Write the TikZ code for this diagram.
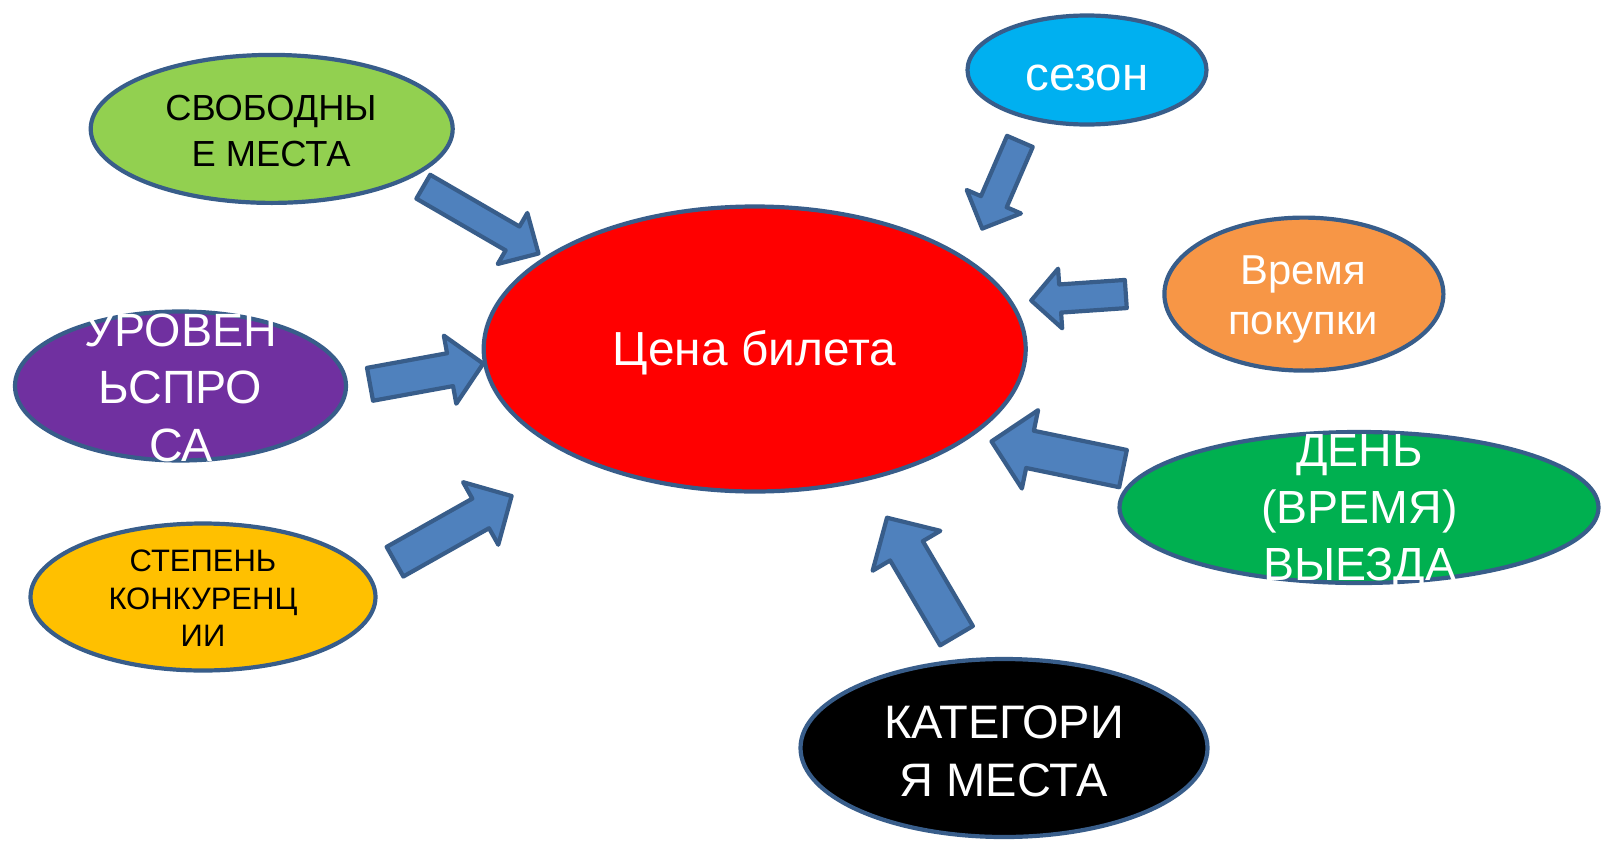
\documentclass[tikz,border=0pt]{standalone}
\usepackage{fontspec}
\setmainfont{Liberation Sans}
\usetikzlibrary{shapes.geometric,calc}
\definecolor{edgeblue}{HTML}{385D8A}
\definecolor{arrblue}{HTML}{4F81BD}
\definecolor{cgreen}{HTML}{92D050}
\definecolor{ccyan}{HTML}{00B0F0}
\definecolor{corange}{HTML}{F79646}
\definecolor{cpurple}{HTML}{7030A0}
\definecolor{cyellow}{HTML}{FFC000}
\definecolor{cgreenb}{HTML}{00B050}
\definecolor{cred}{HTML}{FF0000}
\tikzset{
  bubble/.style={ellipse, draw=edgeblue, line width=4.2pt, inner sep=0pt},
  arrowshape/.style={draw=edgeblue, fill=arrblue, line width=4.2pt, line join=round},
  lbl/.style={inner sep=0pt, anchor=base},
}
\newcommand\blockarr[5]{%
  \path ($(#2)!#5!(#1)$) coordinate (ba-h);
  \draw[arrowshape] ($(#1)!#3!90:(#2)$) -- ($(ba-h)!#3!90:(#2)$) -- ($(ba-h)!#4!90:(#2)$) -- (#2)
    -- ($(ba-h)!#4!-90:(#2)$) -- ($(ba-h)!#3!-90:(#2)$) -- ($(#1)!#3!-90:(#2)$) -- cycle;}
\begin{document}
\begin{tikzpicture}[x=1pt,y=-1pt]
\useasboundingbox (0,0) rectangle (1603,841);
% ellipses
\node[bubble, fill=cred, minimum width=542pt, minimum height=285pt] (cena) at (754.7,349) {};
\node[bubble, fill=cgreen, minimum width=362pt, minimum height=148pt] (svob) at (271.7,128.9) {};
\node[bubble, fill=ccyan, minimum width=239pt, minimum height=109pt] (sezon) at (1087,70) {};
\node[bubble, fill=corange, minimum width=279pt, minimum height=153pt] (vrem) at (1303.9,294.1) {};
\node[bubble, fill=cpurple, minimum width=331pt, minimum height=149pt] (urov) at (180.5,386) {};
\node[bubble, fill=cyellow, minimum width=345pt, minimum height=147pt] (step) at (203,597) {};
\node[bubble, fill=cgreenb, minimum width=479pt, minimum height=151pt] (den) at (1359,507.5) {};
\node[bubble, fill=black, minimum width=407pt, minimum height=178pt] (kat) at (1004,748) {};
% arrow end points
\coordinate (a1s) at (423.3,186.7);  \coordinate (a1e) at (538.5,253.5);
\coordinate (a2s) at (1019.9,141.4); \coordinate (a2e) at (982.2,228.6);
\coordinate (a3s) at (1125.8,294);   \coordinate (a3e) at (1031.2,300.5);
\coordinate (a4s) at (370,384.3);    \coordinate (a4e) at (483.2,363.6);
\coordinate (a5s) at (395,561.7);    \coordinate (a5e) at (511.6,496);
\coordinate (a6s) at (1123,468.6);   \coordinate (a6e) at (991.5,441.4);
\coordinate (a7s) at (956.5,635.7);  \coordinate (a7e) at (887,517.7);
\blockarr{a1s}{a1e}{13.8pt}{29.5pt}{30pt}
\blockarr{a2s}{a2e}{14pt}{29.5pt}{29.3pt}
\blockarr{a3s}{a3e}{14.1pt}{29.9pt}{29pt}
\blockarr{a4s}{a4e}{16.7pt}{34.6pt}{33.7pt}
\blockarr{a5s}{a5e}{17pt}{35.9pt}{35.5pt}
\blockarr{a6s}{a6e}{19pt}{40pt}{39.3pt}
\blockarr{a7s}{a7e}{19pt}{39.3pt}{38.4pt}
% labels
\node[lbl, text=white, font=\fontsize{47.8}{57}\selectfont] (cena-t) at (754.5,365.7) {Цена билета};
\node[lbl, text=black, font=\fontsize{36.3}{46}\selectfont] (svob-t1) at (271,120.7) {СВОБОДНЫ};
\node[lbl, text=black, font=\fontsize{36.3}{46}\selectfont] (svob-t2) at (271,166.7) {Е МЕСТА};
\node[lbl, text=white, font=\fontsize{47.5}{57}\selectfont] (sezon-t) at (1086.8,90) {сезон};
\node[lbl, text=white, font=\fontsize{41.8}{50}\selectfont] (vrem-t1) at (1303,284) {Время};
\node[lbl, text=white, font=\fontsize{41.8}{50}\selectfont] (vrem-t2) at (1303,334) {покупки};
\node[lbl, text=white, font=\fontsize{46.7}{57}\selectfont] (urov-t1) at (181,346.7) {УРОВЕН};
\node[lbl, text=white, font=\fontsize{46.7}{57}\selectfont] (urov-t2) at (180.5,403.3) {ЬСПРО};
\node[lbl, text=white, font=\fontsize{46.7}{57}\selectfont] (urov-t3) at (181,461.7) {СА};
\node[lbl, text=black, font=\fontsize{31}{37.5}\selectfont] (step-t1) at (203,571.7) {СТЕПЕНЬ};
\node[lbl, text=black, font=\fontsize{31}{37.5}\selectfont] (step-t2) at (203,609.3) {КОНКУРЕНЦ};
\node[lbl, text=black, font=\fontsize{31}{37.5}\selectfont] (step-t3) at (203,646.7) {ИИ};
\node[lbl, text=white, font=\fontsize{46.5}{57}\selectfont] (den-t1) at (1359.6,466) {ДЕНЬ};
\node[lbl, text=white, font=\fontsize{46.5}{57}\selectfont] (den-t2) at (1359.6,523) {(ВРЕМЯ)};
\node[lbl, text=white, font=\fontsize{46.5}{57}\selectfont] (den-t3) at (1359.6,580) {ВЫЕЗДА};
\node[lbl, text=white, font=\fontsize{47}{57}\selectfont] (kat-t1) at (1004,738.3) {КАТЕГОРИ};
\node[lbl, text=white, font=\fontsize{47}{57}\selectfont] (kat-t2) at (1004,796.7) {Я МЕСТА};
\end{tikzpicture}
\end{document}
